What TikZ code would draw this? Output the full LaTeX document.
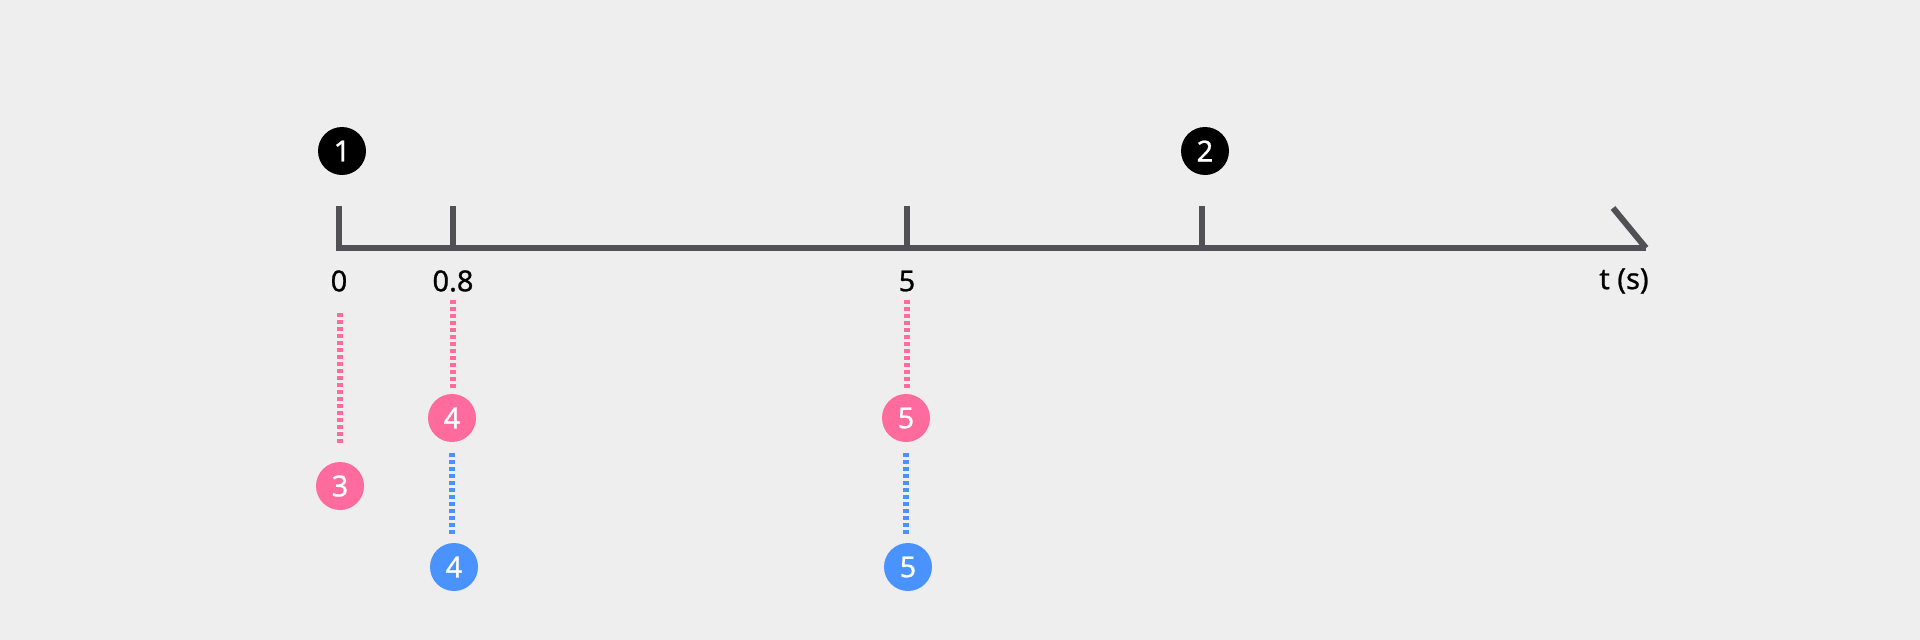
\documentclass[tikz,border=0pt]{standalone}
\usepackage{fontspec}
\setmainfont{Noto Sans}[UprightFeatures={FakeBold=0.8}]
\definecolor{bg}{HTML}{EEEEEE}
\definecolor{axisgray}{HTML}{505055}
\definecolor{pinkc}{HTML}{FF6B9D}
\definecolor{bluec}{HTML}{4A93FF}
\begin{document}
\begin{tikzpicture}[x=1pt,y=-1pt,
  badge/.style={circle,minimum size=48pt,inner sep=0pt,text=white,font=\fontsize{29}{29}\selectfont},
  lbl/.style={inner sep=0pt,font=\fontsize{29}{29}\selectfont,text=black},
  axisline/.style={draw=axisgray,line width=6pt},
  dotline/.style={line width=6.5pt,dash pattern=on 3.5pt off 3.5pt}]
\fill[bg] (0,0) rectangle (1920,640);
\useasboundingbox (0,0) rectangle (1920,640);
% axis
\coordinate (a0) at (339,206);
\coordinate (corner) at (339,248);
\coordinate (aend) at (1646,248);
\coordinate (diag) at (1613,208);
\draw[axisline,line join=miter] (a0) -- (corner) -- (aend);
\draw[axisline] (aend) -- (diag);
\foreach \n/\x in {t1/453,t2/907,t3/1202}{
  \coordinate (\n a) at (\x,206);
  \coordinate (\n b) at (\x,248);
  \draw[axisline] (\n a) -- (\n b);
}
% labels
\node[lbl] (l0) at (339,281) {0};
\node[lbl] (l08) at (453,281) {0.8};
\node[lbl] (l5) at (907,281) {5};
\node[lbl] (lt) at (1624,281) {t (s)};
% black badges
\node[badge,fill=black] (b1) at (342,151) {1};
\node[badge,fill=black] (b2) at (1205,151) {2};
% pink / blue badges
\node[badge,fill=pinkc] (p3) at (340,486) {3};
\node[badge,fill=pinkc] (p4) at (452,418) {4};
\node[badge,fill=pinkc] (p5) at (906,418) {5};
\node[badge,fill=bluec] (q4) at (454,567) {4};
\node[badge,fill=bluec] (q5) at (908,567) {5};
% dotted connectors
\coordinate (d0s) at (340,313); \coordinate (d0e) at (340,443);
\coordinate (d1s) at (453,300); \coordinate (d1e) at (453,388);
\coordinate (d2s) at (907,300); \coordinate (d2e) at (907,388);
\coordinate (e1s) at (452,453); \coordinate (e1e) at (452,535);
\coordinate (e2s) at (906,453); \coordinate (e2e) at (906,535);
\draw[dotline,draw=pinkc] (d0s) -- (d0e);
\draw[dotline,draw=pinkc] (d1s) -- (d1e);
\draw[dotline,draw=pinkc] (d2s) -- (d2e);
\draw[dotline,draw=bluec] (e1s) -- (e1e);
\draw[dotline,draw=bluec] (e2s) -- (e2e);
\end{tikzpicture}
\end{document}
